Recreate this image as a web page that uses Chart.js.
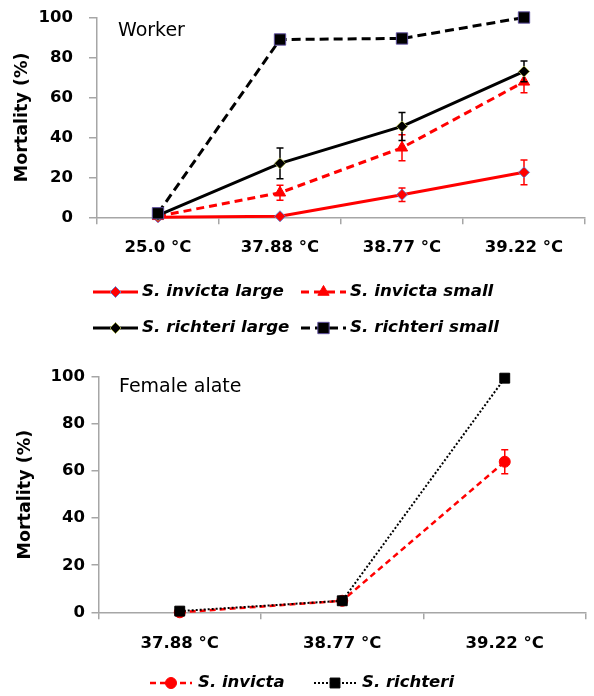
<!DOCTYPE html>
<html>
<head>
<meta charset="utf-8">
<script src="https://cdn.jsdelivr.net/npm/chart.js@4.4.1/dist/chart.umd.min.js"></script>
<style>
  html, body { margin: 0; padding: 0; background: #fff; }
  canvas { display: block; }
</style>
</head>
<body>
<canvas id="worker" width="594" height="360"></canvas>
<canvas id="alate" width="594" height="336"></canvas>
<script>
// ── Dados ─────────────────────────────────────────
const workerTemps      = ['25.0 °C', '37.88 °C', '38.77 °C', '39.22 °C'];
const invictaLarge     = [0, 0.5, 11.3, 22.5];
const invictaLargeErr  = [0, 0, 3.4, 6.2];
const invictaSmall     = [0.5, 12.3, 34.8, 67.8];
const invictaSmallErr  = [0, 3.8, 6.5, 5.5];
const richteriLarge    = [1, 27, 45.5, 73];
const richteriLargeErr = [0, 7.7, 7, 5.2];
const richteriSmall    = [2, 89, 89.5, 100];
const richteriSmallErr = [0, 0, 2, 0];

const alateTemps       = ['37.88 °C', '38.77 °C', '39.22 °C'];
const alateInvicta     = [0, 4.9, 64];
const alateInvictaErr  = [0, 0, 5.1];
const alateRichteri    = [0.5, 4.9, 99.5];

const yMin = 0, yMax = 100, yStep = 20;

// ── Estilos ───────────────────────────────────────
const AXIS = '#a6a6a6';
const FONT = "'DejaVu Sans', sans-serif";

function drawMarker(ctx, style, x, y, r, fill, stroke, bw) {
  ctx.save();
  ctx.setLineDash([]);
  ctx.beginPath();
  if (style === 'circle') ctx.arc(x, y, r, 0, Math.PI * 2);
  else if (style === 'rect') { const s = r * Math.SQRT1_2; ctx.rect(x - s, y - s, 2 * s, 2 * s); }
  else if (style === 'rectRot') { ctx.moveTo(x - r, y); ctx.lineTo(x, y - r); ctx.lineTo(x + r, y); ctx.lineTo(x, y + r); ctx.closePath(); }
  else if (style === 'triangle') {
    for (let k = 0; k < 3; k++) {
      const a = k * 2 * Math.PI / 3;
      const px = x + Math.sin(a) * r, py = y - Math.cos(a) * r;
      k ? ctx.lineTo(px, py) : ctx.moveTo(px, py);
    }
    ctx.closePath();
  }
  ctx.fillStyle = fill; ctx.fill();
  if (bw) { ctx.lineWidth = bw; ctx.strokeStyle = stroke; ctx.stroke(); }
  ctx.restore();
}

// barras de erro, desenhadas antes de cada série
const errorBars = {
  id: 'errorBars',
  beforeDatasetDraw(chart, args) {
    const ds = chart.data.datasets[args.index];
    if (!ds.errs) return;
    const { ctx, scales: { x, y } } = chart;
    ctx.save();
    ctx.strokeStyle = ds.borderColor;
    ctx.lineWidth = 1.5;
    ctx.setLineDash([]);
    ds.data.forEach((v, i) => {
      const e = ds.errs[i];
      if (!e) return;
      const px = x.getPixelForValue(i);
      const yt = y.getPixelForValue(v + e), yb = y.getPixelForValue(v - e);
      ctx.beginPath();
      ctx.moveTo(px, yt); ctx.lineTo(px, yb);
      ctx.moveTo(px - 3.5, yt); ctx.lineTo(px + 3.5, yt);
      ctx.moveTo(px - 3.5, yb); ctx.lineTo(px + 3.5, yb);
      ctx.stroke();
    });
    ctx.restore();
  }
};

const panelLabel = {
  id: 'panelLabel',
  afterDraw(chart, args, opts) {
    const { ctx, chartArea } = chart;
    ctx.save();
    ctx.font = opts.font; ctx.fillStyle = '#000'; ctx.textBaseline = 'middle';
    ctx.fillText(opts.text, chartArea.left + opts.dx, chartArea.top + opts.dy);
    ctx.restore();
  }
};

// legenda com linha + marcador
const lineLegend = {
  id: 'lineLegend',
  afterDraw(chart, args, opts) {
    const ctx = chart.ctx;
    opts.items.forEach(it => {
      const ds = chart.data.datasets[it.index];
      ctx.save();
      ctx.strokeStyle = ds.borderColor;
      ctx.lineWidth = ds.borderWidth;
      ctx.setLineDash(ds.borderDash || []);
      ctx.beginPath();
      ctx.moveTo(it.x, it.y); ctx.lineTo(it.x + opts.lineLen, it.y);
      ctx.stroke();
      drawMarker(ctx, ds.pointStyle, it.x + opts.lineLen / 2, it.y, ds.pointRadius * opts.markerScale,
        ds.pointBackgroundColor, ds.pointBorderColor, ds.pointBorderWidth);
      ctx.font = opts.font; ctx.fillStyle = '#000'; ctx.textBaseline = 'middle';
      ctx.fillText(ds.label, it.x + opts.textOffset, it.y);
      ctx.restore();
    });
  }
};

function serie(label, data, errs, o) {
  return Object.assign({
    label, data, errs, tension: 0, clip: false, fill: false,
    pointBorderWidth: 1, pointHoverRadius: 0
  }, o);
}

function axes(labelPad, tickPad, titlePad, xTickPad, yWidth, xHeight) {
  return {
    x: {
      type: 'category', offset: true,
      grid: { offset: true, drawOnChartArea: false, drawTicks: true, tickLength: 7, color: AXIS, lineWidth: 1.5 },
      border: { color: AXIS, width: 1.5 },
      ticks: { color: '#000', padding: xTickPad, font: { family: FONT, size: 16.5, weight: 'bold' } },
      afterFit: s => { s.height = xHeight; s.paddingLeft = 0; s.paddingRight = 0; }
    },
    y: {
      min: yMin, max: yMax,
      grid: { drawOnChartArea: false, drawTicks: true, tickLength: labelPad, color: AXIS, lineWidth: 1.5 },
      border: { color: AXIS, width: 1.5 },
      ticks: { stepSize: yStep, color: '#000', padding: tickPad, font: { family: FONT, size: 16.5, weight: 'bold' } },
      title: { display: true, text: 'Mortality (%)', color: '#000', padding: { top: titlePad, bottom: 0 },
               font: { family: FONT, size: 17.5, weight: 'bold' } },
      afterFit: s => { s.width = yWidth; s.paddingTop = 0; s.paddingBottom = 0; }
    }
  };
}

const base = {
  responsive: false, animation: false, events: [],
  plugins: { legend: { display: false }, tooltip: { enabled: false } }
};

// ── Worker ────────────────────────────────────────
new Chart(document.getElementById('worker'), {
  type: 'line',
  data: {
    labels: workerTemps,
    datasets: [
      serie('S. invicta large', invictaLarge, invictaLargeErr, {
        borderColor: '#ff0000', borderWidth: 3, order: 3,
        pointStyle: 'rectRot', pointRadius: 5.5, pointBackgroundColor: '#ff0000', pointBorderColor: '#6b7fc8'
      }),
      serie('S. invicta small', invictaSmall, invictaSmallErr, {
        borderColor: '#ff0000', borderWidth: 3, borderDash: [8, 5], order: 2,
        pointStyle: 'triangle', pointRadius: 6.5, pointBackgroundColor: '#ff0000', pointBorderColor: '#ff0000'
      }),
      serie('S. richteri large', richteriLarge, richteriLargeErr, {
        borderColor: '#000000', borderWidth: 3, order: 1,
        pointStyle: 'rectRot', pointRadius: 5.5, pointBackgroundColor: '#000000', pointBorderColor: '#9aa04a'
      }),
      serie('S. richteri small', richteriSmall, richteriSmallErr, {
        borderColor: '#000000', borderWidth: 3, borderDash: [9, 5], order: 0,
        pointStyle: 'rect', pointRadius: 8, pointBackgroundColor: '#000000', pointBorderColor: '#5c4d9c'
      })
    ]
  },
  options: Object.assign({}, base, {
    layout: { padding: { left: 0, top: 17.5, right: 1, bottom: 0 } },
    scales: axes(8, 16, 12, 14, 97, 142.7),
    plugins: Object.assign({}, base.plugins, {
      panelLabel: { text: 'Worker', font: `19px ${FONT}`, dx: 21, dy: 14 },
      lineLegend: {
        font: `italic bold 16.7px ${FONT}`, lineLen: 45, textOffset: 49, markerScale: 1,
        items: [
          { index: 0, x: 93, y: 292 }, { index: 1, x: 301, y: 292 },
          { index: 2, x: 93, y: 328 }, { index: 3, x: 301, y: 328 }
        ]
      }
    })
  }),
  plugins: [errorBars, panelLabel, lineLegend]
});

// ── Female alate ──────────────────────────────────
new Chart(document.getElementById('alate'), {
  type: 'line',
  data: {
    labels: alateTemps,
    datasets: [
      serie('S. invicta', alateInvicta, alateInvictaErr, {
        borderColor: '#ff0000', borderWidth: 2.5, borderDash: [6, 4], order: 1,
        pointStyle: 'circle', pointRadius: 5.5, pointBackgroundColor: '#ff0000', pointBorderColor: '#ff0000'
      }),
      serie('S. richteri', alateRichteri, null, {
        borderColor: '#000000', borderWidth: 2, borderDash: [2, 2], order: 0,
        pointStyle: 'rect', pointRadius: 7, pointBackgroundColor: '#000000', pointBorderColor: '#000000'
      })
    ]
  },
  options: Object.assign({}, base, {
    layout: { padding: { left: 0, top: 17, right: 0, bottom: 0 } },
    scales: axes(7, 6.5, 15, 15, 98.5, 83.7),
    plugins: Object.assign({}, base.plugins, {
      panelLabel: { text: 'Female alate', font: `19px ${FONT}`, dx: 20.5, dy: 9.7 },
      lineLegend: {
        font: `italic bold 16.5px ${FONT}`, lineLen: 42, textOffset: 48, markerScale: 1,
        items: [ { index: 0, x: 150, y: 323 }, { index: 1, x: 314, y: 323 } ]
      }
    })
  }),
  plugins: [errorBars, panelLabel, lineLegend]
});
</script>
</body>
</html>
